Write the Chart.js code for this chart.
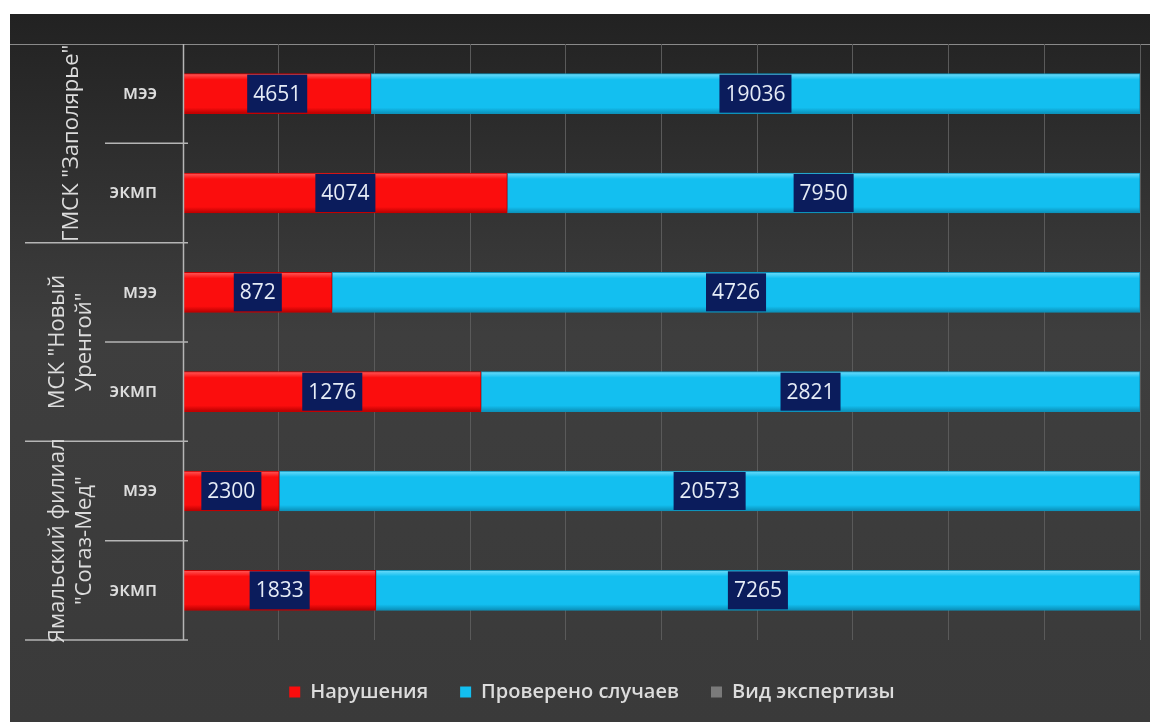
<!DOCTYPE html>
<html>
<head>
<meta charset="utf-8">
<script src="https://cdn.jsdelivr.net/npm/chart.js@4/dist/chart.umd.min.js"></script>
<style>
  html, body { margin: 0; padding: 0; background: #fff; }
  #wrap { width: 1158px; height: 722px; position: relative; }
</style>
</head>
<body>
<div id="wrap"><canvas id="chart" width="1158" height="722"></canvas></div>
<script>
const categories = ['мээ', 'экмп', 'мээ', 'экмп', 'мээ', 'экмп'];
const groups = [
    ['ГМСК "Заполярье"'],
    ['МСК "Новый', 'Уренгой"'],
    ['Ямальский филиал', '"Согаз-Мед"']
];
const violations = [4651, 4074, 872, 1276, 2300, 1833];
const checked = [19036, 7950, 4726, 2821, 20573, 7265];
const seriesNames = ['Нарушения', 'Проверено случаев', 'Вид экспертизы'];
const seriesColors = ['#fb0d0d', '#13bff0', '#7a7a7a'];

const FONT = '"Open Sans", "DejaVu Sans", sans-serif';
const BAR_H = 40;

// 100% stacked shares
const totals = violations.map((v, i) => v + checked[i]);
const violShare = violations.map((v, i) => v / totals[i] * 100);
const checkShare = checked.map((c, i) => c / totals[i] * 100);
const rawValues = [violations, checked];

// slight 3d look on each bar
function barFill(light, base, dark) {
    return (ctx) => {
        const chart = ctx.chart;
        const ys = chart.scales.y;
        if (!ys || ctx.dataIndex === undefined) return base;
        const yc = ys.getPixelForValue(ctx.dataIndex);
        if (!isFinite(yc)) return base;
        const g = chart.ctx.createLinearGradient(0, yc - BAR_H / 2, 0, yc + BAR_H / 2);
        g.addColorStop(0, light);
        g.addColorStop(0.15, base);
        g.addColorStop(0.85, base);
        g.addColorStop(1, dark);
        return g;
    };
}

const backgroundPlugin = {
    id: 'bg',
    beforeDraw(chart) {
        const c = chart.ctx;
        c.save();
        c.fillStyle = '#ffffff';
        c.fillRect(0, 0, chart.width, chart.height);
        const g = c.createLinearGradient(0, 14, 0, chart.height);
        g.addColorStop(0, '#222222');
        g.addColorStop(0.45, '#3e3e3e');
        g.addColorStop(1, '#3a3a3a');
        c.fillStyle = g;
        c.fillRect(10, 14, 1140, chart.height - 14);
        c.strokeStyle = '#8a8a8a';
        c.lineWidth = 1;
        c.beginPath();
        c.moveTo(10, 44.5);
        c.lineTo(1150, 44.5);
        c.stroke();
        c.restore();
    }
};

// legend sits a bit right of the canvas centre in the original
const legendShift = {
    id: 'legendShift',
    afterLayout(chart) {
        if (chart.legend) {
            chart.legend.left += 22;
            chart.legend.right += 22;
        }
    }
};

const groupPlugin = {
    id: 'groups',
    afterDraw(chart) {
        const c = chart.ctx;
        const y = chart.scales.y;
        const axisX = chart.chartArea.left;
        c.save();
        c.strokeStyle = '#b5b5b5';
        c.lineWidth = 1.5;
        const step = y.getPixelForValue(1) - y.getPixelForValue(0);
        c.beginPath();
        c.moveTo(axisX + 0.5, chart.chartArea.top);
        c.lineTo(axisX + 0.5, chart.chartArea.bottom);
        c.stroke();
        for (let i = 0; i < categories.length; i++) {
            const yb = y.getPixelForValue(i) + step / 2;
            const isGroupEnd = (i % 2 === 1);
            c.beginPath();
            c.moveTo(isGroupEnd ? 25 : 105, yb);
            c.lineTo(axisX + 5, yb);
            c.stroke();
        }
        c.fillStyle = '#dcdcdc';
        c.font = '22px ' + FONT;
        c.textAlign = 'center';
        c.textBaseline = 'middle';
        groups.forEach((lines, gi) => {
            const yc = (y.getPixelForValue(gi * 2) + y.getPixelForValue(gi * 2 + 1)) / 2;
            c.save();
            c.translate(lines.length === 1 ? 72 : 71, yc);
            c.rotate(-Math.PI / 2);
            const lh = 27;
            lines.forEach((t, li) => {
                c.fillText(t, 0, (li - (lines.length - 1) / 2) * lh);
            });
            c.restore();
        });
        c.restore();
    }
};

const labelPlugin = {
    id: 'boxLabels',
    afterDatasetsDraw(chart) {
        const c = chart.ctx;
        c.save();
        c.font = '21px ' + FONT;
        c.textAlign = 'center';
        c.textBaseline = 'middle';
        [0, 1].forEach(di => {
            const meta = chart.getDatasetMeta(di);
            meta.data.forEach((bar, i) => {
                const txt = String(rawValues[di][i]);
                const cx = (bar.x + bar.base) / 2;
                const w = c.measureText(txt).width + 12;
                const h = 38;
                c.fillStyle = '#0b1c5c';
                c.fillRect(cx - w / 2, bar.y - h / 2, w, h);
                c.fillStyle = '#e6ecf6';
                c.fillText(txt, cx, bar.y + 1);
            });
        });
        c.restore();
    }
};

new Chart(document.getElementById('chart'), {
    type: 'bar',
    data: {
        labels: categories,
        datasets: [
            { label: seriesNames[0], data: violShare, backgroundColor: barFill('#ff5a5a', seriesColors[0], '#b80000'), borderColor: '#c40000', borderWidth: 1, borderSkipped: false, barThickness: BAR_H },
            { label: seriesNames[1], data: checkShare, backgroundColor: barFill('#6fdcfa', seriesColors[1], '#0a8fb8'), borderColor: '#0d93bb', borderWidth: 1, borderSkipped: false, barThickness: BAR_H },
            { label: seriesNames[2], data: [], backgroundColor: seriesColors[2], borderColor: seriesColors[2] }
        ]
    },
    options: {
        indexAxis: 'y',
        responsive: false,
        animation: false,
        layout: { padding: { top: 44, right: 18, left: 0, bottom: 10 } },
        scales: {
            x: {
                stacked: true, min: 0, max: 100,
                ticks: { display: false, stepSize: 10 },
                grid: { color: '#5a5a5a', lineWidth: 1, drawTicks: false },
                border: { display: false },
                afterFit(scale) { scale.height = 10; }
            },
            y: {
                stacked: true,
                ticks: { color: '#dcdcdc', font: { family: FONT, size: 19, weight: '600' }, padding: 18 },
                grid: { display: false },
                border: { display: false },
                afterFit(scale) { scale.width = 183; }
            }
        },
        plugins: {
            legend: {
                position: 'bottom',
                labels: {
                    color: '#dcdcdc',
                    font: { family: FONT, size: 20, weight: '600' },
                    usePointStyle: true, pointStyle: 'rect', boxWidth: 11, boxHeight: 11,
                    padding: 32,
                    generateLabels(chart) {
                        return chart.data.datasets.map((ds, i) => ({
                            text: ds.label,
                            fillStyle: seriesColors[i],
                            strokeStyle: seriesColors[i],
                            lineWidth: 0,
                            pointStyle: 'rect',
                            fontColor: '#dcdcdc',
                            hidden: false,
                            datasetIndex: i
                        }));
                    }
                }
            },
            tooltip: { enabled: false }
        }
    },
    plugins: [backgroundPlugin, legendShift, groupPlugin, labelPlugin]
});
</script>
</body>
</html>
